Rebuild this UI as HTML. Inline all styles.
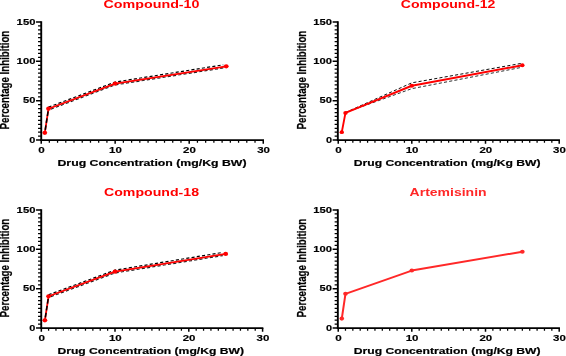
<!DOCTYPE html>
<html><head><meta charset="utf-8"><title>Percentage Inhibition</title>
<style>
html,body{margin:0;padding:0;background:#fff;}
body{width:566px;height:356px;overflow:hidden;}
svg{display:block;will-change:transform;font-family:"Liberation Sans",sans-serif;font-weight:bold;fill:#000;}
</style></head><body>
<svg width="566" height="356" viewBox="0 0 566 356">
<rect width="566" height="356" fill="#fff"/>
<polyline points="48.51,107.15 115.15,82.05 223.26,64.81" fill="none" stroke="#000" stroke-width="1.2" stroke-dasharray="3.1 2.2"/>
<polyline points="48.51,109.99 115.15,84.88 223.26,67.96" fill="none" stroke="#222" stroke-width="1.2" stroke-dasharray="3.1 2.2" stroke-dashoffset="2.7"/>
<polyline points="44.8,132.81 48.51,108.73 115.15,83.62 226.22,66.31" fill="none" stroke="#ff0000" stroke-width="1.8" stroke-linejoin="round"/>
<polyline points="44.8,132.81 48.51,108.73" fill="none" stroke="#000" stroke-width="1.5" stroke-dasharray="4.6 2.4" stroke-dashoffset="-3"/>
<ellipse cx="44.8" cy="132.81" rx="2.4" ry="2.112" fill="#ff0000"/>
<ellipse cx="48.51" cy="108.73" rx="2.4" ry="2.112" fill="#ff0000"/>
<ellipse cx="115.15" cy="83.62" rx="2.4" ry="2.112" fill="#ff0000"/>
<ellipse cx="226.22" cy="66.31" rx="2.4" ry="2.112" fill="#ff0000"/>
<path d="M41.23 21.25 V140.88" stroke="#000" stroke-width="1.9" fill="none"/>
<path d="M40.28 140.05 H264" stroke="#000" stroke-width="1.65" fill="none"/>
<path d="M41.23 140.05h-5.2 M41.23 100.7h-5.2 M41.23 61.35h-5.2 M41.23 22h-5.2 M41.23 140.05v3.8 M115.15 140.05v3.8 M189.2 140.05v3.8 M263.25 140.05v3.8" stroke="#000" stroke-width="1.5" fill="none"/>
<path d="M41.23 136.12h-3.2 M41.23 132.18h-3.2 M41.23 128.25h-3.2 M41.23 124.31h-3.2 M41.23 120.38h-3.2 M41.23 116.44h-3.2 M41.23 112.51h-3.2 M41.23 108.57h-3.2 M41.23 104.64h-3.2 M41.23 96.77h-3.2 M41.23 92.83h-3.2 M41.23 88.9h-3.2 M41.23 84.96h-3.2 M41.23 81.03h-3.2 M41.23 77.09h-3.2 M41.23 73.16h-3.2 M41.23 69.22h-3.2 M41.23 65.29h-3.2 M41.23 57.42h-3.2 M41.23 53.48h-3.2 M41.23 49.55h-3.2 M41.23 45.61h-3.2 M41.23 41.68h-3.2 M41.23 37.74h-3.2 M41.23 33.81h-3.2 M41.23 29.87h-3.2 M41.23 25.94h-3.2 M49.33 140.05v2.6 M57.56 140.05v2.6 M65.78 140.05v2.6 M74.01 140.05v2.6 M82.24 140.05v2.6 M90.47 140.05v2.6 M98.69 140.05v2.6 M106.92 140.05v2.6 M123.38 140.05v2.6 M131.61 140.05v2.6 M139.83 140.05v2.6 M148.06 140.05v2.6 M156.29 140.05v2.6 M164.52 140.05v2.6 M172.74 140.05v2.6 M180.97 140.05v2.6 M197.43 140.05v2.6 M205.66 140.05v2.6 M213.88 140.05v2.6 M222.11 140.05v2.6 M230.34 140.05v2.6 M238.57 140.05v2.6 M246.79 140.05v2.6 M255.02 140.05v2.6" stroke="#000" stroke-width="1.25" fill="none"/>
<text x="35.43" y="142.65" text-anchor="end" font-size="9" stroke="#000" stroke-width="0.15" textLength="6.1" lengthAdjust="spacingAndGlyphs">0</text>
<text x="35.43" y="103.3" text-anchor="end" font-size="9" stroke="#000" stroke-width="0.15" textLength="12.4" lengthAdjust="spacingAndGlyphs">50</text>
<text x="35.43" y="63.95" text-anchor="end" font-size="9" stroke="#000" stroke-width="0.15" textLength="18.8" lengthAdjust="spacingAndGlyphs">100</text>
<text x="35.43" y="24.6" text-anchor="end" font-size="9" stroke="#000" stroke-width="0.15" textLength="18.8" lengthAdjust="spacingAndGlyphs">150</text>
<text x="41.6" y="152.95" text-anchor="middle" font-size="9" stroke="#000" stroke-width="0.15" textLength="6.5" lengthAdjust="spacingAndGlyphs">0</text>
<text x="115.45" y="152.95" text-anchor="middle" font-size="9" stroke="#000" stroke-width="0.15" textLength="12.8" lengthAdjust="spacingAndGlyphs">10</text>
<text x="189.5" y="152.95" text-anchor="middle" font-size="9" stroke="#000" stroke-width="0.15" textLength="12.8" lengthAdjust="spacingAndGlyphs">20</text>
<text x="263.55" y="152.95" text-anchor="middle" font-size="9" stroke="#000" stroke-width="0.15" textLength="12.8" lengthAdjust="spacingAndGlyphs">30</text>
<text x="152" y="165.8" text-anchor="middle" font-size="9.3" stroke="#000" stroke-width="0.2" textLength="189" lengthAdjust="spacingAndGlyphs">Drug Concentration (mg/Kg BW)</text>
<text transform="translate(9.45 80.1) rotate(-90)" text-anchor="middle" font-size="12.5" stroke="#000" stroke-width="0.25" textLength="98.8" lengthAdjust="spacingAndGlyphs">Percentage Inhibition</text>
<text x="151.5" y="8.1" text-anchor="middle" font-size="10.3" fill="#ff0000" textLength="96" lengthAdjust="spacingAndGlyphs">Compound-10</text>
<polyline points="345.47,112.51 411.8,82.84 520.88,63.47" fill="none" stroke="#000" stroke-width="0.95" stroke-dasharray="3.1 2.2"/>
<polyline points="345.47,112.51 411.8,88.66 520.88,67.49" fill="none" stroke="#222" stroke-width="0.95" stroke-dasharray="3.1 2.2" stroke-dashoffset="2.7"/>
<polyline points="341.79,132.18 345.47,112.9 411.8,85.75 522.35,65.29" fill="none" stroke="#ff0000" stroke-width="1.9" stroke-linejoin="round"/>
<ellipse cx="341.79" cy="132.18" rx="2.2" ry="1.9360000000000002" fill="#ff0000"/>
<ellipse cx="345.47" cy="112.9" rx="2.2" ry="1.9360000000000002" fill="#ff0000"/>
<ellipse cx="411.8" cy="85.75" rx="2.2" ry="1.9360000000000002" fill="#ff0000"/>
<ellipse cx="522.35" cy="65.29" rx="2.2" ry="1.9360000000000002" fill="#ff0000"/>
<path d="M337.83 21.25 V140.88" stroke="#000" stroke-width="1.9" fill="none"/>
<path d="M336.88 140.05 H559.95" stroke="#000" stroke-width="1.65" fill="none"/>
<path d="M337.83 140.05h-5.2 M337.83 100.7h-5.2 M337.83 61.35h-5.2 M337.83 22h-5.2 M338.23 140.05v3.8 M411.8 140.05v3.8 M485.5 140.05v3.8 M559.2 140.05v3.8" stroke="#000" stroke-width="1.5" fill="none"/>
<path d="M337.83 136.12h-3.2 M337.83 132.18h-3.2 M337.83 128.25h-3.2 M337.83 124.31h-3.2 M337.83 120.38h-3.2 M337.83 116.44h-3.2 M337.83 112.51h-3.2 M337.83 108.57h-3.2 M337.83 104.64h-3.2 M337.83 96.77h-3.2 M337.83 92.83h-3.2 M337.83 88.9h-3.2 M337.83 84.96h-3.2 M337.83 81.03h-3.2 M337.83 77.09h-3.2 M337.83 73.16h-3.2 M337.83 69.22h-3.2 M337.83 65.29h-3.2 M337.83 57.42h-3.2 M337.83 53.48h-3.2 M337.83 49.55h-3.2 M337.83 45.61h-3.2 M337.83 41.68h-3.2 M337.83 37.74h-3.2 M337.83 33.81h-3.2 M337.83 29.87h-3.2 M337.83 25.94h-3.2 M345.47 140.05v2.6 M352.84 140.05v2.6 M360.21 140.05v2.6 M367.58 140.05v2.6 M374.95 140.05v2.6 M382.32 140.05v2.6 M389.69 140.05v2.6 M397.06 140.05v2.6 M404.43 140.05v2.6 M419.17 140.05v2.6 M426.54 140.05v2.6 M433.91 140.05v2.6 M441.28 140.05v2.6 M448.65 140.05v2.6 M456.02 140.05v2.6 M463.39 140.05v2.6 M470.76 140.05v2.6 M478.13 140.05v2.6 M492.87 140.05v2.6 M500.24 140.05v2.6 M507.61 140.05v2.6 M514.98 140.05v2.6 M522.35 140.05v2.6 M529.72 140.05v2.6 M537.09 140.05v2.6 M544.46 140.05v2.6 M551.83 140.05v2.6" stroke="#000" stroke-width="1.25" fill="none"/>
<text x="332.03" y="142.65" text-anchor="end" font-size="9" stroke="#000" stroke-width="0.15" textLength="6.1" lengthAdjust="spacingAndGlyphs">0</text>
<text x="332.03" y="103.3" text-anchor="end" font-size="9" stroke="#000" stroke-width="0.15" textLength="12.4" lengthAdjust="spacingAndGlyphs">50</text>
<text x="332.03" y="63.95" text-anchor="end" font-size="9" stroke="#000" stroke-width="0.15" textLength="18.8" lengthAdjust="spacingAndGlyphs">100</text>
<text x="332.03" y="24.6" text-anchor="end" font-size="9" stroke="#000" stroke-width="0.15" textLength="18.8" lengthAdjust="spacingAndGlyphs">150</text>
<text x="338.6" y="152.95" text-anchor="middle" font-size="9" stroke="#000" stroke-width="0.15" textLength="6.5" lengthAdjust="spacingAndGlyphs">0</text>
<text x="412.1" y="152.95" text-anchor="middle" font-size="9" stroke="#000" stroke-width="0.15" textLength="12.8" lengthAdjust="spacingAndGlyphs">10</text>
<text x="485.8" y="152.95" text-anchor="middle" font-size="9" stroke="#000" stroke-width="0.15" textLength="12.8" lengthAdjust="spacingAndGlyphs">20</text>
<text x="559.5" y="152.95" text-anchor="middle" font-size="9" stroke="#000" stroke-width="0.15" textLength="12.8" lengthAdjust="spacingAndGlyphs">30</text>
<text x="447.2" y="165.8" text-anchor="middle" font-size="9.3" stroke="#000" stroke-width="0.2" textLength="186.8" lengthAdjust="spacingAndGlyphs">Drug Concentration (mg/Kg BW)</text>
<text transform="translate(306.05 80.1) rotate(-90)" text-anchor="middle" font-size="12.5" stroke="#000" stroke-width="0.25" textLength="98.8" lengthAdjust="spacingAndGlyphs">Percentage Inhibition</text>
<text x="448.1" y="8.1" text-anchor="middle" font-size="10.3" fill="#ff0000" textLength="94.6" lengthAdjust="spacingAndGlyphs">Compound-12</text>
<polyline points="48.58,294.76 115,270.13 222.75,252.42" fill="none" stroke="#000" stroke-width="1.2" stroke-dasharray="3.1 2.2"/>
<polyline points="48.58,297.51 115,272.96 222.75,255.57" fill="none" stroke="#222" stroke-width="1.2" stroke-dasharray="3.1 2.2" stroke-dashoffset="2.7"/>
<polyline points="44.89,320.34 48.58,296.26 115,271.7 225.7,253.91" fill="none" stroke="#ff0000" stroke-width="1.8" stroke-linejoin="round"/>
<polyline points="44.89,320.34 48.58,296.26" fill="none" stroke="#000" stroke-width="1.5" stroke-dasharray="4.6 2.4" stroke-dashoffset="-3"/>
<ellipse cx="44.89" cy="320.34" rx="2.4" ry="2.112" fill="#ff0000"/>
<ellipse cx="48.58" cy="296.26" rx="2.4" ry="2.112" fill="#ff0000"/>
<ellipse cx="115" cy="271.7" rx="2.4" ry="2.112" fill="#ff0000"/>
<ellipse cx="225.7" cy="253.91" rx="2.4" ry="2.112" fill="#ff0000"/>
<path d="M41.23 209.25 V328.88" stroke="#000" stroke-width="1.9" fill="none"/>
<path d="M40.28 328.05 H263.35" stroke="#000" stroke-width="1.65" fill="none"/>
<path d="M41.23 328.05h-5.2 M41.23 288.7h-5.2 M41.23 249.35h-5.2 M41.23 210h-5.2 M41.33 328.05v3.8 M115 328.05v3.8 M188.8 328.05v3.8 M262.6 328.05v3.8" stroke="#000" stroke-width="1.5" fill="none"/>
<path d="M41.23 324.12h-3.2 M41.23 320.18h-3.2 M41.23 316.25h-3.2 M41.23 312.31h-3.2 M41.23 308.38h-3.2 M41.23 304.44h-3.2 M41.23 300.5h-3.2 M41.23 296.57h-3.2 M41.23 292.63h-3.2 M41.23 284.76h-3.2 M41.23 280.83h-3.2 M41.23 276.89h-3.2 M41.23 272.96h-3.2 M41.23 269.02h-3.2 M41.23 265.09h-3.2 M41.23 261.16h-3.2 M41.23 257.22h-3.2 M41.23 253.29h-3.2 M41.23 245.42h-3.2 M41.23 241.48h-3.2 M41.23 237.55h-3.2 M41.23 233.61h-3.2 M41.23 229.68h-3.2 M41.23 225.74h-3.2 M41.23 221.81h-3.2 M41.23 217.87h-3.2 M41.23 213.94h-3.2 M48.58 328.05v2.6 M55.96 328.05v2.6 M63.34 328.05v2.6 M70.72 328.05v2.6 M78.1 328.05v2.6 M85.48 328.05v2.6 M92.86 328.05v2.6 M100.24 328.05v2.6 M107.62 328.05v2.6 M122.38 328.05v2.6 M129.76 328.05v2.6 M137.14 328.05v2.6 M144.52 328.05v2.6 M151.9 328.05v2.6 M159.28 328.05v2.6 M166.66 328.05v2.6 M174.04 328.05v2.6 M181.42 328.05v2.6 M196.18 328.05v2.6 M203.56 328.05v2.6 M210.94 328.05v2.6 M218.32 328.05v2.6 M225.7 328.05v2.6 M233.08 328.05v2.6 M240.46 328.05v2.6 M247.84 328.05v2.6 M255.22 328.05v2.6" stroke="#000" stroke-width="1.25" fill="none"/>
<text x="35.43" y="330.65" text-anchor="end" font-size="9" stroke="#000" stroke-width="0.15" textLength="6.1" lengthAdjust="spacingAndGlyphs">0</text>
<text x="35.43" y="291.3" text-anchor="end" font-size="9" stroke="#000" stroke-width="0.15" textLength="12.4" lengthAdjust="spacingAndGlyphs">50</text>
<text x="35.43" y="251.95" text-anchor="end" font-size="9" stroke="#000" stroke-width="0.15" textLength="18.8" lengthAdjust="spacingAndGlyphs">100</text>
<text x="35.43" y="212.6" text-anchor="end" font-size="9" stroke="#000" stroke-width="0.15" textLength="18.8" lengthAdjust="spacingAndGlyphs">150</text>
<text x="41.7" y="340.95" text-anchor="middle" font-size="9" stroke="#000" stroke-width="0.15" textLength="6.5" lengthAdjust="spacingAndGlyphs">0</text>
<text x="115.3" y="340.95" text-anchor="middle" font-size="9" stroke="#000" stroke-width="0.15" textLength="12.8" lengthAdjust="spacingAndGlyphs">10</text>
<text x="189.1" y="340.95" text-anchor="middle" font-size="9" stroke="#000" stroke-width="0.15" textLength="12.8" lengthAdjust="spacingAndGlyphs">20</text>
<text x="262.9" y="340.95" text-anchor="middle" font-size="9" stroke="#000" stroke-width="0.15" textLength="12.8" lengthAdjust="spacingAndGlyphs">30</text>
<text x="150.7" y="353.8" text-anchor="middle" font-size="9.3" stroke="#000" stroke-width="0.2" textLength="186.5" lengthAdjust="spacingAndGlyphs">Drug Concentration (mg/Kg BW)</text>
<text transform="translate(9.45 268.1) rotate(-90)" text-anchor="middle" font-size="12.5" stroke="#000" stroke-width="0.25" textLength="98.8" lengthAdjust="spacingAndGlyphs">Percentage Inhibition</text>
<text x="151.5" y="196.1" text-anchor="middle" font-size="10.3" fill="#ff0000" textLength="95" lengthAdjust="spacingAndGlyphs">Compound-18</text>
<polyline points="341.79,318.61 345.47,293.82 411.8,270.6 522.35,251.71" fill="none" stroke="#ff2828" stroke-width="2.0" stroke-linejoin="round"/>
<ellipse cx="341.79" cy="318.61" rx="2.3" ry="2.024" fill="#ff2828"/>
<ellipse cx="345.47" cy="293.82" rx="2.3" ry="2.024" fill="#ff2828"/>
<ellipse cx="411.8" cy="270.6" rx="2.3" ry="2.024" fill="#ff2828"/>
<ellipse cx="522.35" cy="251.71" rx="2.3" ry="2.024" fill="#ff2828"/>
<path d="M337.83 209.25 V328.88" stroke="#000" stroke-width="1.9" fill="none"/>
<path d="M336.88 328.05 H559.95" stroke="#000" stroke-width="1.65" fill="none"/>
<path d="M337.83 328.05h-5.2 M337.83 288.7h-5.2 M337.83 249.35h-5.2 M337.83 210h-5.2 M338.23 328.05v3.8 M411.8 328.05v3.8 M485.5 328.05v3.8 M559.2 328.05v3.8" stroke="#000" stroke-width="1.5" fill="none"/>
<path d="M337.83 324.12h-3.2 M337.83 320.18h-3.2 M337.83 316.25h-3.2 M337.83 312.31h-3.2 M337.83 308.38h-3.2 M337.83 304.44h-3.2 M337.83 300.5h-3.2 M337.83 296.57h-3.2 M337.83 292.63h-3.2 M337.83 284.76h-3.2 M337.83 280.83h-3.2 M337.83 276.89h-3.2 M337.83 272.96h-3.2 M337.83 269.02h-3.2 M337.83 265.09h-3.2 M337.83 261.16h-3.2 M337.83 257.22h-3.2 M337.83 253.29h-3.2 M337.83 245.42h-3.2 M337.83 241.48h-3.2 M337.83 237.55h-3.2 M337.83 233.61h-3.2 M337.83 229.68h-3.2 M337.83 225.74h-3.2 M337.83 221.81h-3.2 M337.83 217.87h-3.2 M337.83 213.94h-3.2 M345.47 328.05v2.6 M352.84 328.05v2.6 M360.21 328.05v2.6 M367.58 328.05v2.6 M374.95 328.05v2.6 M382.32 328.05v2.6 M389.69 328.05v2.6 M397.06 328.05v2.6 M404.43 328.05v2.6 M419.17 328.05v2.6 M426.54 328.05v2.6 M433.91 328.05v2.6 M441.28 328.05v2.6 M448.65 328.05v2.6 M456.02 328.05v2.6 M463.39 328.05v2.6 M470.76 328.05v2.6 M478.13 328.05v2.6 M492.87 328.05v2.6 M500.24 328.05v2.6 M507.61 328.05v2.6 M514.98 328.05v2.6 M522.35 328.05v2.6 M529.72 328.05v2.6 M537.09 328.05v2.6 M544.46 328.05v2.6 M551.83 328.05v2.6" stroke="#000" stroke-width="1.25" fill="none"/>
<text x="332.03" y="330.65" text-anchor="end" font-size="9" stroke="#000" stroke-width="0.15" textLength="6.1" lengthAdjust="spacingAndGlyphs">0</text>
<text x="332.03" y="291.3" text-anchor="end" font-size="9" stroke="#000" stroke-width="0.15" textLength="12.4" lengthAdjust="spacingAndGlyphs">50</text>
<text x="332.03" y="251.95" text-anchor="end" font-size="9" stroke="#000" stroke-width="0.15" textLength="18.8" lengthAdjust="spacingAndGlyphs">100</text>
<text x="332.03" y="212.6" text-anchor="end" font-size="9" stroke="#000" stroke-width="0.15" textLength="18.8" lengthAdjust="spacingAndGlyphs">150</text>
<text x="338.6" y="340.95" text-anchor="middle" font-size="9" stroke="#000" stroke-width="0.15" textLength="6.5" lengthAdjust="spacingAndGlyphs">0</text>
<text x="412.1" y="340.95" text-anchor="middle" font-size="9" stroke="#000" stroke-width="0.15" textLength="12.8" lengthAdjust="spacingAndGlyphs">10</text>
<text x="485.8" y="340.95" text-anchor="middle" font-size="9" stroke="#000" stroke-width="0.15" textLength="12.8" lengthAdjust="spacingAndGlyphs">20</text>
<text x="559.5" y="340.95" text-anchor="middle" font-size="9" stroke="#000" stroke-width="0.15" textLength="12.8" lengthAdjust="spacingAndGlyphs">30</text>
<text x="447.2" y="353.8" text-anchor="middle" font-size="9.3" stroke="#000" stroke-width="0.2" textLength="186.8" lengthAdjust="spacingAndGlyphs">Drug Concentration (mg/Kg BW)</text>
<text transform="translate(306.05 268.1) rotate(-90)" text-anchor="middle" font-size="12.5" stroke="#000" stroke-width="0.25" textLength="98.8" lengthAdjust="spacingAndGlyphs">Percentage Inhibition</text>
<text x="448.1" y="196.1" text-anchor="middle" font-size="10.3" fill="#ff2828" textLength="77" lengthAdjust="spacingAndGlyphs">Artemisinin</text>
</svg>
</body></html>
